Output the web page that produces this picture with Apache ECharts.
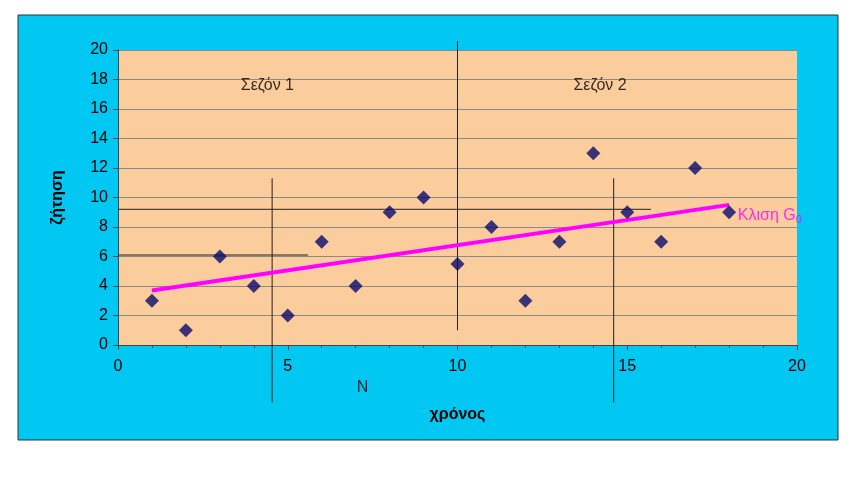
<!DOCTYPE html><html><head><meta charset="utf-8"><script src="https://cdn.jsdelivr.net/npm/echarts@6/dist/echarts.min.js"></script></head><body style="margin:0;background:#fff"><div id="c" style="width:856px;height:477px"></div><script>
const xs=[1,2,3,4,5,6,7,8,9,10,11,12,13,14,15,16,17,18];
const demand=[3,1,6,4,2,7,4,9,10,5.5,8,3,7,13,9,7,12,9];
const trend=[[1,3.7],[18,9.5]];
const yTicks=[0,2,4,6,8,10,12,14,16,18,20];
const xTicks=[0,5,10,15,20];
const segs=[[[4.54,11.3],[4.54,-3.9]],[[10,20.6],[10,1]],[[14.6,11.3],[14.6,-3.9]],[[0,9.2],[15.7,9.2]],[[0,6.1],[5.6,6.1]]];
const arrows=[[[5.45,-2.9],[4.6,-2.9]],[[7,-2.9],[14.55,-2.9]]];
const c=echarts.init(document.getElementById('c'));
const ff='Liberation Sans, Arial';
c.setOption({animation:false,
graphic:[{type:'rect',z:-10,shape:{x:18,y:15,width:820,height:425},style:{fill:'#00c8f2',stroke:'#333',lineWidth:1}}],
grid:{left:118,right:59,top:50,bottom:132,show:true,backgroundColor:'#fccd9c',borderWidth:0},
xAxis:{type:'value',min:0,max:20,interval:5,axisLine:{lineStyle:{color:'#444'}},axisTick:{show:true,inside:false,lineStyle:{color:'#444'}},minorTick:{show:true,splitNumber:5,lineStyle:{color:'#444'}},splitLine:{show:false},axisLabel:{color:'#000',fontSize:16,fontFamily:ff,margin:14},name:'χρόνος',nameLocation:'middle',nameGap:62,nameTextStyle:{color:'#000',fontSize:16,fontWeight:'bold',fontFamily:ff}},
yAxis:{type:'value',min:0,max:20,interval:2,axisLine:{show:true,lineStyle:{color:'#444'}},axisTick:{show:true,lineStyle:{color:'#444'}},splitLine:{lineStyle:{color:'#8a8a8a'}},axisLabel:{color:'#000',fontSize:16,fontFamily:ff,margin:10},name:'ζήτηση',nameLocation:'middle',nameGap:52,nameTextStyle:{color:'#000',fontSize:16,fontWeight:'bold',fontFamily:ff}},
series:[
{type:'line',data:trend,symbol:'none',lineStyle:{color:'#ff00ff',width:4},z:3},
{type:'scatter',data:xs.map((x,i)=>[x,demand[i]]),symbol:'diamond',symbolSize:14,itemStyle:{color:'#0a0a6e'},z:4},
...segs.map(s=>({type:'line',data:s,symbol:'none',clip:false,lineStyle:{color:'#222',width:1},z:2})),
{type:'scatter',data:[],clip:false,markLine:{silent:true,symbol:['none','arrow'],symbolSize:[8,10],label:{show:false},lineStyle:{color:'#222',width:1,type:'solid'},data:arrows.map(a=>[{coord:a[0]},{coord:a[1]}])}},
{type:'scatter',data:[[4.4,17.6,'Σεζόν 1'],[14.2,17.6,'Σεζόν 2'],[7.2,-2.9,'N']],symbolSize:0,clip:false,label:{show:true,position:'inside',formatter:p=>p.value[2],color:'#000',fontSize:16,fontFamily:ff}},
{type:'scatter',data:[[19.2,8.8]],symbolSize:0,clip:false,label:{show:true,position:'inside',formatter:'Κλιση G{s|0}',color:'#ff00ff',fontSize:16,fontFamily:ff,rich:{s:{fontSize:11,color:'#ff00ff',verticalAlign:'bottom',padding:[10,0,0,0]}}}}
]});
</script></body></html>
